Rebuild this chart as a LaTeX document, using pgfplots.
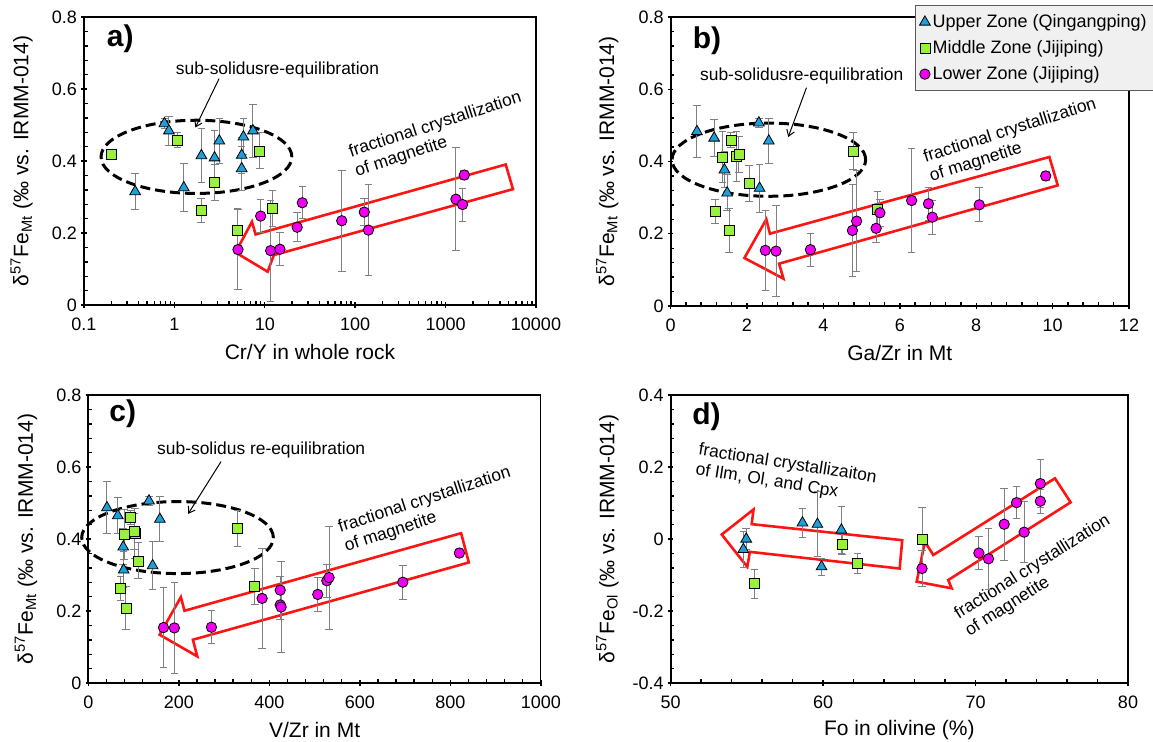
\documentclass[border=0pt]{standalone}
\usepackage{fontspec}
\setmainfont{Liberation Sans}
\usepackage{pgfplots}
\pgfplotsset{compat=1.18}
\usepackage{pgfplotstable}
\usetikzlibrary{arrows.meta}

\definecolor{cBlue}{RGB}{30,158,218}
\definecolor{cGreen}{RGB}{152,242,58}
\definecolor{cMag}{RGB}{240,0,240}
\definecolor{errgray}{RGB}{128,128,128}
\definecolor{legbg}{RGB}{240,240,240}
\definecolor{arrred}{RGB}{255,20,20}

\newcommand\annfont{\fontsize{8.7}{10}\selectfont}
\newcommand\letfont{\bfseries\fontsize{15}{18}\selectfont}
\newcommand\ylabMt{δ\textsuperscript{57}Fe\textsubscript{Mt} (‰ vs. IRMM-014)}
\newcommand\ylabOl{δ\textsuperscript{57}Fe\textsubscript{Ol} (‰ vs. IRMM-014)}

% ---------- panel a : Cr/Y in whole rock ----------
\pgfplotstableread{
x y e
0.368 0.315 0.05
0.776 0.504 0.015
0.87 0.484 0.04
1.27 0.326 0.067
1.99 0.415 0.074
2.78 0.409 0.075
3.14 0.456 0.062
5.55 0.416 0.05
5.8 0.467 0.05
5.55 0.379 0.06
7.4 0.484 0.073
}\aUp
\pgfplotstableread{
x y e
0.2 0.419 0.01
1.08 0.458 0.02
2.8 0.340 0.05
1.97 0.262 0.033
8.8 0.428 0.05
5.0 0.208 0.06
12.2 0.268 0.05
}\aMid
\pgfplotstableread{
x y e
5.05 0.154 0.11
9.0 0.247 0.046
11.6 0.151 0.14
14.7 0.155 0.046
22.8 0.216 0.04
26 0.284 0.045
71 0.234 0.14
126 0.258 0.037
140 0.208 0.126
1300 0.294 0.143
1540 0.279 0.046
1610 0.361 0.012
}\aLow
% ---------- panel b : Ga/Zr in Mt ----------
\pgfplotstableread{
x y e
0.69 0.483 0.073
1.14 0.465 0.05
1.41 0.377 0.05
1.48 0.313 0.05
2.31 0.507 0.013
2.57 0.457 0.062
2.33 0.326 0.067
}\bUp
\pgfplotstableread{
x y e
1.58 0.459 0.02
1.36 0.412 0.07
1.72 0.414 0.07
1.79 0.42 0.05
2.06 0.339 0.05
1.17 0.261 0.033
1.53 0.209 0.06
4.78 0.429 0.05
5.42 0.267 0.05
}\bMid
\pgfplotstableread{
x y e
2.48 0.154 0.11
2.76 0.152 0.127
3.66 0.156 0.046
4.76 0.209 0.127
4.87 0.235 0.14
5.38 0.215 0.04
5.48 0.258 0.038
6.31 0.292 0.143
6.75 0.283 0.046
6.85 0.246 0.047
8.08 0.28 0.047
9.82 0.36 0.012
}\bLow
% ---------- panel c : V/Zr in Mt ----------
\pgfplotstableread{
x y e
41 0.487 0.073
65 0.465 0.05
77 0.378 0.05
78 0.314 0.05
134 0.506 0.013
158 0.455 0.062
142 0.326 0.067
}\cUp
\pgfplotstableread{
x y e
93 0.46 0.02
79 0.412 0.07
103 0.416 0.07
101 0.42 0.05
110 0.339 0.05
71 0.262 0.033
83 0.208 0.06
330 0.429 0.05
368 0.268 0.05
}\cMid
\pgfplotstableread{
x y e
166 0.154 0.11
190 0.153 0.127
272 0.155 0.046
384 0.235 0.14
424 0.258 0.038
424 0.217 0.04
426 0.211 0.127
507 0.246 0.047
527 0.284 0.046
532 0.293 0.143
695 0.28 0.047
820 0.361 0.012
}\cLow
% ---------- panel d : Fo in olivine ----------
\pgfplotstableread{
x y e
54.77 -0.029 0.05
54.96 0.0 0.03
58.65 0.045 0.04
59.63 0.041 0.09
59.9 -0.077 0.023
61.2 0.025 0.066
}\dUp
\pgfplotstableread{
x y e
55.51 -0.124 0.04
61.26 -0.014 0.03
62.27 -0.068 0.028
66.49 0.0 0.087
}\dMid
\pgfplotstableread{
x y e
66.49 -0.082 0.05
70.22 -0.039 0.047
70.85 -0.055 0.085
71.88 0.041 0.1
72.69 0.101 0.044
73.19 0.019 0.085
74.25 0.154 0.066
74.25 0.105 0.033
}\dLow

\tikzset{
  ell/.style={black, line width=1.5pt, dash pattern=on 5pt off 2.5pt},
  ptr/.style={black, line width=0.5pt, -{Straight Barb[length=3pt,width=4pt]}},
  redarr/.style={arrred, line width=1.3pt, line join=miter},
}
\pgfplotsset{
  myaxis/.style={
    scale only axis, clip=false,
    axis line style={line width=0.6pt},
    tick pos=left, tick align=inside,
    major tick length=2.8pt, minor tick length=1.8pt,
    tick style={black, line width=0.7pt},
    major x tick style={yshift=-1.4pt},
    major y tick style={xshift=-1.4pt},
    tick label style={font=\fontsize{9}{10}\selectfont},
    xticklabel style={yshift=-3pt},
    label style={font=\fontsize{10.5}{12}\selectfont},
    xlabel style={at={(axis description cs:0.5,-0.163)}, anchor=center},
    ylabel style={at={(axis description cs:-0.138,0.5)}, anchor=center},
    /pgf/number format/assume math mode=true,
    /pgf/number format/1000 sep={},
    yticklabel style={/pgf/number format/fixed, /pgf/number format/precision=1},
    minor y tick num=4,
  },
  upmark/.style={mark=triangle*, mark size=3.1pt, mark options={fill=cBlue, draw=black, line width=0.4pt}},
  midmark/.style={mark=square*, mark size=2.5pt, mark options={fill=cGreen, draw=black, line width=0.4pt}},
  lowmark/.style={mark=*, mark size=2.6pt, mark options={fill=cMag, draw=black, line width=0.4pt}},
  errs/.style={only marks, forget plot, error bars/.cd, y dir=both, y explicit,
    error bar style={line width=0.5pt, draw=errgray},
    error mark options={rotate=90, mark size=1.9pt, line width=0.5pt, draw=errgray}},
}

\begin{document}
\begin{tikzpicture}
\useasboundingbox (0,0) rectangle (576.5pt,370.5pt);

% ================= a =================
\begin{axis}[myaxis, at={(42pt,218pt)}, anchor=south west, width=226pt, height=144pt,
  xmode=log, xmin=0.1, xmax=10000, ymin=0, ymax=0.8,
  xtick={0.1,1,10,100,1000,10000}, xticklabels={0.1,1,10,100,1000,10000},
  minor xtick={0.2,0.3,0.4,0.5,0.6,0.7,0.8,0.9,2,3,4,5,6,7,8,9,20,30,40,50,60,70,80,90,200,300,400,500,600,700,800,900,2000,3000,4000,5000,6000,7000,8000,9000},
  ytick={0,0.2,0.4,0.6,0.8},
  xlabel={Cr/Y in whole rock}, ylabel={\ylabMt}]
\draw[ell] (rel axis cs:0.2488,0.5145) ellipse [x radius=47.7pt, y radius=18.3pt];
\draw[ptr] (rel axis cs:0.2989,0.7861) -- (rel axis cs:0.2464,0.6162);
\node[font=\annfont] at (rel axis cs:0.4281,0.8173) {sub-solidusre-equilibration};
\draw[redarr] (rel axis cs:0.3796,0.2451) -- (rel axis cs:0.9330,0.4879) -- (rel axis cs:0.9491,0.4023) -- (rel axis cs:0.4200,0.1734) -- (rel axis cs:0.4063,0.1156) -- (rel axis cs:0.3352,0.1827) -- (rel axis cs:0.3716,0.2890) -- cycle;
\node[font=\annfont, align=left, rotate=17.9] at (rel axis cs:0.784,0.591) {fractional crystallization\\of magnetite};
\node[font=\letfont, anchor=west] at (rel axis cs:0.035,0.923) {a)};
\addplot[upmark, errs] table[x=x,y=y,y error=e] {\aUp};
\addplot[midmark, errs] table[x=x,y=y,y error=e] {\aMid};
\addplot[lowmark, errs] table[x=x,y=y,y error=e] {\aLow};
\draw[line width=1.1pt] (rel axis cs:0,1) -- (rel axis cs:0,0) -- (rel axis cs:1,0);
\end{axis}

% ================= b =================
\begin{axis}[myaxis, at={(335.3pt,217.5pt)}, anchor=south west, width=229.2pt, height=144.5pt,
  xmin=0, xmax=12, ymin=0, ymax=0.8,
  xtick={0,2,4,6,8,10,12}, minor x tick num=4,
  ytick={0,0.2,0.4,0.6,0.8},
  xlabel={Ga/Zr in Mt}, ylabel={\ylabMt},
  legend style={at={(0.533,1.0415)}, anchor=north west, fill=legbg, draw=black!65, line width=0.6pt,
    font=\fontsize{9}{10.8}\selectfont, row sep=2.6pt, inner xsep=2pt, inner ysep=3pt,
    cells={anchor=west}, nodes={inner sep=1.2pt}},
  legend image code/.code={\draw[mark repeat=2,mark phase=2,#1] plot coordinates {(0cm,0cm) (0.13cm,0cm) (0.26cm,0cm)};}]
\draw[ell] (rel axis cs:0.2143,0.5063) ellipse [x radius=48.4pt, y radius=18.3pt];
\draw[ptr] (rel axis cs:0.2964,0.7555) -- (rel axis cs:0.2566,0.5848);
\node[font=\annfont] at (rel axis cs:0.2861,0.7970) {sub-solidusre-equilibration};
\draw[redarr] (rel axis cs:0.2167,0.2503) -- (rel axis cs:0.8263,0.5156) -- (rel axis cs:0.8446,0.4175) -- (rel axis cs:0.2367,0.1465) -- (rel axis cs:0.2462,0.0946) -- (rel axis cs:0.1610,0.1661) -- (rel axis cs:0.2088,0.2999) -- cycle;
\node[font=\annfont, align=left, rotate=17.5] at (rel axis cs:0.747,0.573) {fractional crystallization\\of magnetite};
\node[font=\letfont, anchor=west] at (rel axis cs:0.033,0.917) {b)};
\addplot[upmark, errs] table[x=x,y=y,y error=e] {\bUp};
\addplot[midmark, errs] table[x=x,y=y,y error=e] {\bMid};
\addplot[lowmark, errs] table[x=x,y=y,y error=e] {\bLow};
\addlegendimage{only marks, upmark}
\addlegendentry{Upper Zone (Qingangping)}
\addlegendimage{only marks, midmark}
\addlegendentry{Middle Zone (Jijiping)}
\addlegendimage{only marks, lowmark}
\addlegendentry{Lower Zone (Jijiping)}
\draw[line width=1.1pt] (rel axis cs:0,1) -- (rel axis cs:0,0) -- (rel axis cs:1,0);
\end{axis}

% ================= c =================
\begin{axis}[myaxis, at={(44.2pt,29pt)}, anchor=south west, width=226.2pt, height=144pt,
  xmin=0, xmax=1000, ymin=0, ymax=0.8,
  xtick={0,200,400,600,800,1000}, minor x tick num=4,
  ytick={0,0.2,0.4,0.6,0.8},
  xlabel={V/Zr in Mt}, ylabel={\ylabMt}]
\draw[ell] (rel axis cs:0.197,0.505) ellipse [x radius=47.9pt, y radius=18pt];
\draw[ptr] (rel axis cs:0.2932,0.7688) -- (rel axis cs:0.2205,0.5873);
\node[font=\annfont] at (rel axis cs:0.382,0.808) {sub-solidus re-equilibration};
\draw[redarr] (rel axis cs:0.2124,0.2509) -- (rel axis cs:0.8239,0.5202) -- (rel axis cs:0.8409,0.4185) -- (rel axis cs:0.2310,0.1503) -- (rel axis cs:0.2407,0.0925) -- (rel axis cs:0.1575,0.1676) -- (rel axis cs:0.2044,0.2983) -- cycle;
\node[font=\annfont, align=left, rotate=18] at (rel axis cs:0.75,0.601) {fractional crystallization\\of magnetite};
\node[font=\letfont, anchor=west] at (rel axis cs:0.031,0.936) {c)};
\addplot[upmark, errs] table[x=x,y=y,y error=e] {\cUp};
\addplot[midmark, errs] table[x=x,y=y,y error=e] {\cMid};
\addplot[lowmark, errs] table[x=x,y=y,y error=e] {\cLow};
\draw[line width=1.1pt] (rel axis cs:0,1) -- (rel axis cs:0,0) -- (rel axis cs:1,0);
\end{axis}

% ================= d =================
\begin{axis}[myaxis, at={(335.3pt,29pt)}, anchor=south west, width=228.7pt, height=144pt,
  xmin=50, xmax=80, ymin=-0.4, ymax=0.4,
  xtick={50,60,70,80}, minor x tick num=4,
  ytick={-0.4,-0.2,0,0.2,0.4},
  xlabel={Fo in olivine (\%)}, ylabel={\ylabOl}]
\draw[redarr] (rel axis cs:0.1118,0.5156) -- (rel axis cs:0.1813,0.6026) -- (rel axis cs:0.1773,0.5516) -- (rel axis cs:0.5064,0.4959) -- (rel axis cs:0.5008,0.3975) -- (rel axis cs:0.1733,0.4554) -- (rel axis cs:0.1677,0.4032) -- cycle;
\draw[redarr] (rel axis cs:0.538,0.352) -- (rel axis cs:0.556,0.4906) -- (rel axis cs:0.5743,0.4444) -- (rel axis cs:0.8403,0.7107) -- (rel axis cs:0.8746,0.6274) -- (rel axis cs:0.6070,0.3576) -- (rel axis cs:0.6145,0.3287) -- cycle;
\node[font=\annfont, align=left, rotate=-8.9] at (rel axis cs:0.2525,0.725) {fractional crystallizaiton\\of Ilm, Ol, and Cpx};
\node[font=\annfont, align=left, rotate=32.2] at (rel axis cs:0.803,0.3715) {fractional crystallization\\of magnetite};
\node[font=\letfont, anchor=west] at (rel axis cs:0.032,0.925) {d)};
\addplot[upmark, errs] table[x=x,y=y,y error=e] {\dUp};
\addplot[midmark, errs] table[x=x,y=y,y error=e] {\dMid};
\addplot[lowmark, errs] table[x=x,y=y,y error=e] {\dLow};
\draw[line width=1.1pt] (rel axis cs:0,1) -- (rel axis cs:0,0) -- (rel axis cs:1,0);
\end{axis}
\end{tikzpicture}
\end{document}
